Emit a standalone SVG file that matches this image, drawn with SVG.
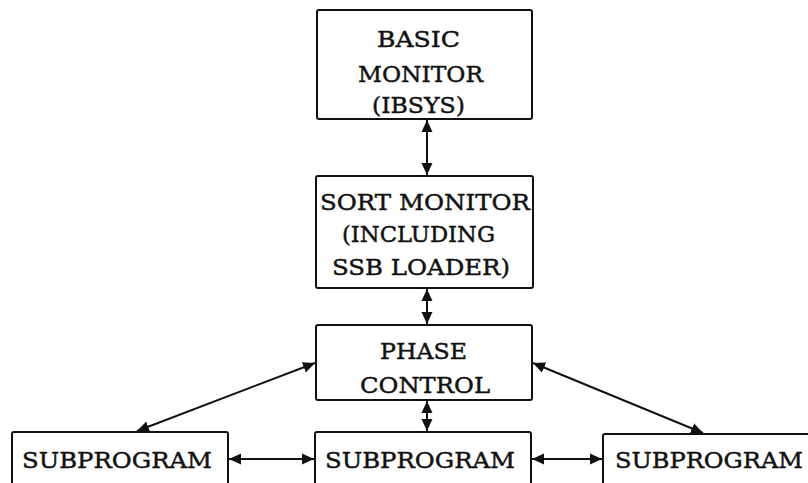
<svg xmlns="http://www.w3.org/2000/svg" width="808" height="483" viewBox="0 0 808 483">
<style>
.box{fill:#fff;stroke:#111;stroke-width:2}
.t{font-family:"DejaVu Serif","Liberation Serif",serif;font-size:23px;fill:#111;stroke:#111;stroke-width:0.45;text-anchor:middle}
.c{stroke:#111;stroke-width:2;fill:none;marker-start:url(#ah);marker-end:url(#ah)}
</style>
<defs>
<marker id="ah" markerUnits="userSpaceOnUse" markerWidth="12" markerHeight="12" viewBox="0 0 12 12" refX="12" refY="6" orient="auto-start-reverse">
<path d="M0,0.5 L12,6 L0,11.5 Z" fill="#111"/>
</marker>
</defs>
<rect width="808" height="483" fill="#fff"/>
<g id="connectors">
<line class="c" x1="427" y1="120" x2="427" y2="175"/>
<line class="c" x1="427" y1="289" x2="427" y2="324"/>
<line class="c" x1="427" y1="401" x2="427" y2="431"/>
<line class="c" x1="137" y1="431" x2="315" y2="363"/>
<line class="c" x1="533" y1="363" x2="703" y2="433"/>
<line class="c" x1="229" y1="459" x2="314" y2="459"/>
<line class="c" x1="532" y1="459" x2="602" y2="459"/>
</g>
<g id="basic-monitor">
<rect class="box" x="317" y="10" width="215" height="109" rx="2"/>
<text class="t" x="418.5" y="47" textLength="83" lengthAdjust="spacingAndGlyphs">BASIC</text>
<text class="t" x="420.5" y="82" textLength="125" lengthAdjust="spacingAndGlyphs">MONITOR</text>
<text class="t" x="418.5" y="113" textLength="93" lengthAdjust="spacingAndGlyphs">(IBSYS)</text>
</g>
<g id="sort-monitor">
<rect class="box" x="316" y="176" width="217" height="112" rx="2"/>
<text class="t" x="425" y="210" textLength="210" lengthAdjust="spacingAndGlyphs">SORT MONITOR</text>
<text class="t" x="418.5" y="242" textLength="153" lengthAdjust="spacingAndGlyphs">(INCLUDING</text>
<text class="t" x="421" y="275" textLength="178" lengthAdjust="spacingAndGlyphs">SSB LOADER)</text>
</g>
<g id="phase-control">
<rect class="box" x="316" y="325" width="216" height="75" rx="2"/>
<text class="t" x="423.5" y="359" textLength="87" lengthAdjust="spacingAndGlyphs">PHASE</text>
<text class="t" x="425" y="393" textLength="130" lengthAdjust="spacingAndGlyphs">CONTROL</text>
</g>
<g id="subprogram-left">
<rect class="box" x="12" y="432" width="216" height="70" rx="2"/>
<text class="t" x="117" y="468" textLength="190" lengthAdjust="spacingAndGlyphs">SUBPROGRAM</text>
</g>
<g id="subprogram-middle">
<rect class="box" x="315" y="432" width="216" height="70" rx="2"/>
<text class="t" x="420" y="468" textLength="190" lengthAdjust="spacingAndGlyphs">SUBPROGRAM</text>
</g>
<g id="subprogram-right">
<rect class="box" x="603" y="434" width="220" height="70" rx="2"/>
<text class="t" x="709" y="468" textLength="188" lengthAdjust="spacingAndGlyphs">SUBPROGRAM</text>
</g>
</svg>
